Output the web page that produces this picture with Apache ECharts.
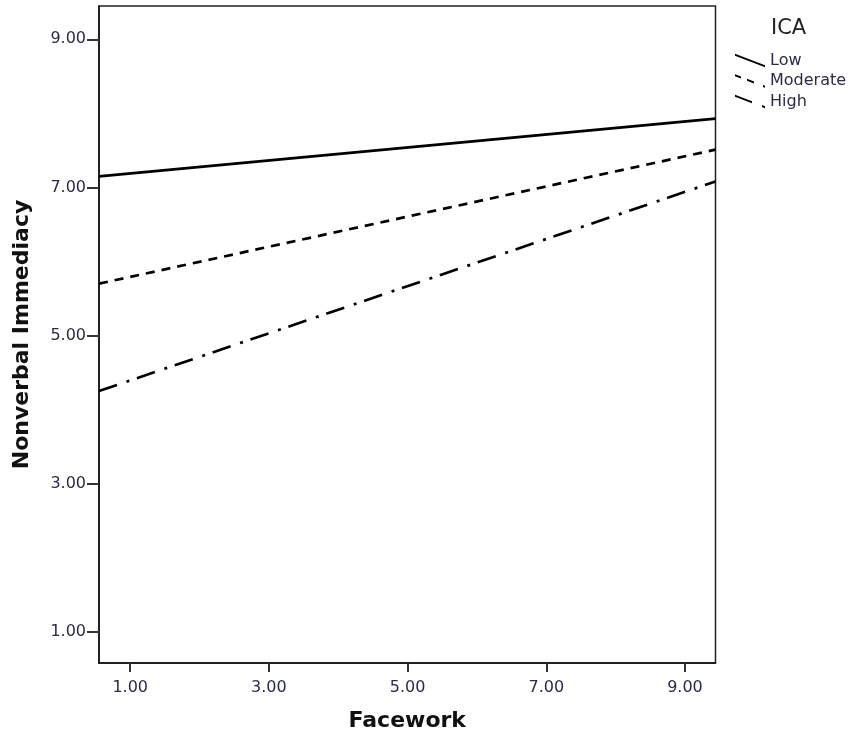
<!DOCTYPE html>
<html>
<head>
<meta charset="utf-8">
<title>Nonverbal Immediacy by Facework</title>
<script src="https://cdn.jsdelivr.net/npm/echarts@6/dist/echarts.min.js"></script>
<style>
    html, body {
        margin: 0;
        padding: 0;
        background: #fff;
    }
    #chart {
        width: 853px;
        height: 740px;
    }
</style>
</head>
<body>
<div id="chart"></div>
<script>
// 数据: 两端点 (x 轴范围两端)
const faceworkRange = [0.55, 9.44];
const lowICA = [7.15, 7.93];
const moderateICA = [5.70, 7.51];
const highICA = [4.25, 7.08];
const seriesNames = ['Low', 'Moderate', 'High'];
const xTicks = [1, 3, 5, 7, 9];
const yTicks = [1, 3, 5, 7, 9];

const font = 'DejaVu Sans';
const labelColor = '#2b2b48';

// 斜线图例图标 (SPSS 风格), 每段 [x1, x2]
const slantIcon = segs => {
    const k = 11.5 / 30;
    const t = 2;
    return 'path://' + segs.map(([a, b]) =>
        `M${a},${a * k} L${b},${b * k} L${b},${b * k + t} L${a},${a * k + t} Z`
    ).join(' ');
};

const toPoints = values => faceworkRange.map((x, i) => [x, values[i]]);

// series 公共部分
const publicSets = {
    type: 'line',
    symbol: 'none',
    showSymbol: false,
    animation: false,
    silent: true,
};

const myEcharts = echarts.init(document.getElementById('chart'));
const options = {
    animation: false,
    title: {
        text: 'ICA',
        left: 771,
        top: 18,
        padding: 0,
        textStyle: {
            fontFamily: font,
            fontSize: 21,
            fontWeight: 'normal',
            color: '#222',
        },
    },
    legend: {
        orient: 'vertical',
        left: 735,
        top: 52.5,
        padding: 0,
        itemGap: 4.5,
        itemWidth: 30,
        itemHeight: 13.5,
        itemStyle: {
            color: '#000',
            borderWidth: 0,
        },
        textStyle: {
            fontFamily: font,
            fontSize: 16,
            lineHeight: 16,
            color: labelColor,
        },
        data: [
            { name: seriesNames[0], icon: slantIcon([[0, 30]]) },
            { name: seriesNames[1], icon: slantIcon([[0, 6], [12, 19], [28, 30]]) },
            { name: seriesNames[2], icon: slantIcon([[0, 17], [27, 30]]) },
        ],
    },
    // 图表位置大小
    grid: {
        left: 99,
        right: 137.5,
        top: 6,
        bottom: 77,
        show: true,
        borderColor: '#222',
        borderWidth: 1.5,
    },
    xAxis: {
        type: 'value',
        min: faceworkRange[0],
        max: faceworkRange[1],
        name: 'Facework',
        nameLocation: 'middle',
        nameGap: 47,
        nameTextStyle: {
            fontFamily: font,
            fontSize: 22,
            fontWeight: 'bold',
            color: '#111',
        },
        splitLine: { show: false },
        axisLine: {
            lineStyle: { color: '#111', width: 1.5 },
        },
        axisTick: {
            length: 9,
            customValues: xTicks,
            lineStyle: { color: '#333', width: 2 },
        },
        axisLabel: {
            customValues: xTicks,
            margin: 17,
            fontFamily: font,
            fontSize: 16,
            color: labelColor,
            formatter: v => v.toFixed(2),
        },
    },
    yAxis: {
        type: 'value',
        min: 0.577,
        max: 9.45,
        name: 'Nonverbal Immediacy',
        nameLocation: 'middle',
        nameGap: 66,
        nameTextStyle: {
            fontFamily: font,
            fontSize: 22,
            fontWeight: 'bold',
            color: '#111',
        },
        splitLine: { show: false },
        axisLine: {
            show: true,
            lineStyle: { color: '#111', width: 1.5 },
        },
        axisTick: {
            show: true,
            length: 12,
            customValues: yTicks,
            lineStyle: { color: '#333', width: 2 },
        },
        axisLabel: {
            customValues: yTicks,
            margin: 13,
            fontFamily: font,
            fontSize: 16,
            color: labelColor,
            formatter: v => v.toFixed(2),
        },
    },
    series: [
        {
            name: seriesNames[0],
            data: toPoints(lowICA),
            lineStyle: { color: '#000', width: 2.7, type: 'solid' },
        },
        {
            name: seriesNames[1],
            data: toPoints(moderateICA),
            lineStyle: { color: '#000', width: 2.7, type: [9, 7] },
        },
        {
            name: seriesNames[2],
            data: toPoints(highICA),
            lineStyle: { color: '#000', width: 2.7, type: [19, 10, 3, 8] },
        },
    ],
};
options.series.forEach(s => Object.assign(s, publicSets));
myEcharts.setOption(options);
</script>
</body>
</html>
